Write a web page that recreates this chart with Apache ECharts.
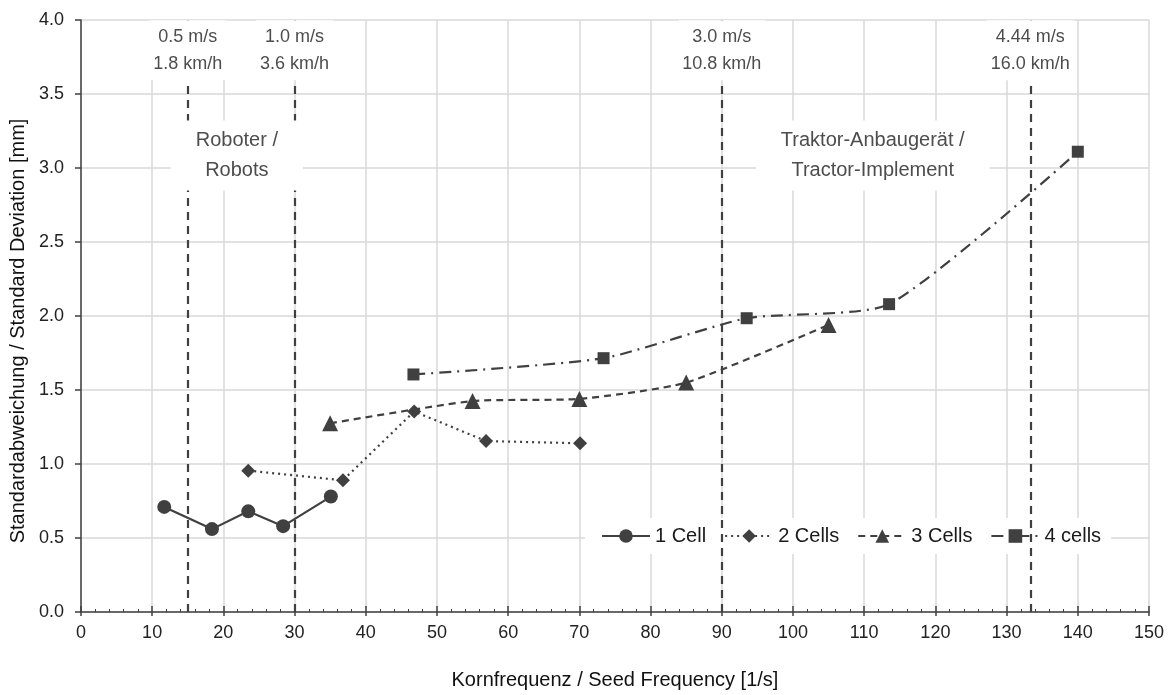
<!DOCTYPE html>
<html lang="de">
<head>
    <meta charset="UTF-8">
    <title>Standardabweichung</title>
    <style>
        html, body { margin: 0; padding: 0; background: #fff; }
        #main { width: 1173px; height: 695px; }
    </style>
</head>
<body>
<div id="main"></div>
<script src="https://cdn.jsdelivr.net/npm/echarts@6/dist/echarts.min.js"></script>
<script type="text/javascript">
    // Messwerte: Kornfrequenz [1/s] und Standardabweichung [mm] je Zellenzahl
    var freq1 = [11.7, 18.4, 23.5, 28.4, 35.1];
    var sd1 = [0.71, 0.56, 0.68, 0.58, 0.78];
    var freq2 = [23.5, 36.8, 46.8, 56.9, 70.1];
    var sd2 = [0.955, 0.89, 1.355, 1.155, 1.14];
    var freq3 = [35.0, 55.0, 70.0, 85.0, 105.0];
    var sd3 = [1.275, 1.425, 1.44, 1.55, 1.94];
    var freq4 = [46.7, 73.4, 93.5, 113.5, 140.0];
    var sd4 = [1.605, 1.715, 1.985, 2.08, 3.11];
    var seriesNames = ['1 Cell', '2 Cells', '3 Cells', '4 cells'];

    // Geschwindigkeitsgrenzen (senkrechte Linien)
    var speedFreq = [15, 30, 90, 133.33];
    var speedLabels = ['0.5 m/s\n1.8 km/h', '1.0 m/s\n3.6 km/h', '3.0 m/s\n10.8 km/h', '4.44 m/s\n16.0 km/h'];
    // Bereiche
    var regionLabels = ['Roboter /\nRobots', 'Traktor-Anbaugerät /\nTractor-Implement'];
    var regionFreq = [21.9, 111.2];

    var FONT = 'Liberation Sans, Arial, sans-serif';
    var DARK = '#404040';

    function pairs(xs, ys) {
        var out = [];
        for (var i = 0; i < xs.length; i++) {
            out.push([xs[i], ys[i]]);
        }
        return out;
    }

    // Beschriftungen: y-Lage ist nur Layout
    var annot = [];
    for (var i = 0; i < speedFreq.length; i++) {
        annot.push({value: [speedFreq[i], 3.795, speedLabels[i]], label: {fontSize: 18, lineHeight: 27, padding: [3, 4]}});
    }
    for (var j = 0; j < regionFreq.length; j++) {
        annot.push({value: [regionFreq[j], 3.084, regionLabels[j]], label: {fontSize: 20, lineHeight: 30, padding: [5, 25]}});
    }

    var myChart = echarts.init(document.getElementById('main'));

    var lineSeries = function (name, data, symbol, size, type, smooth) {
        return {
            name: name,
            type: 'line',
            data: data,
            symbol: symbol,
            symbolSize: size,
            smooth: smooth,
            z: 4,
            itemStyle: {color: DARK},
            lineStyle: {color: DARK, width: 2.2, type: type}
        };
    };

    myChart.setOption({
        backgroundColor: '#ffffff',
        animation: false,
        textStyle: {fontFamily: FONT},
        grid: {left: 80, right: 24, top: 20, bottom: 82},
        legend: {
            data: seriesNames,
            left: 585,
            top: 518,
            backgroundColor: '#fff',
            padding: [8, 10, 8, 16],
            itemWidth: 48,
            itemHeight: 17,
            itemGap: 18,
            textStyle: {fontSize: 20, color: '#1a1a1a', fontFamily: FONT}
        },
        xAxis: [{
            type: 'value',
            min: 0,
            max: 150,
            interval: 10,
            name: 'Kornfrequenz / Seed Frequency [1/s]',
            nameLocation: 'middle',
            nameGap: 58,
            nameTextStyle: {fontSize: 20, color: '#111'},
            axisLine: {onZero: false, lineStyle: {color: DARK, width: 1.5}},
            axisTick: {inside: true, length: 6, lineStyle: {color: DARK, width: 1.5}},
            minorTick: {show: true, splitNumber: 5, length: 3, lineStyle: {color: DARK}},
            axisLabel: {fontSize: 18, color: '#222', margin: 12},
            splitLine: {show: true, lineStyle: {color: '#d9d9d9', width: 1.5}}
        }, {
            type: 'value',
            min: 0,
            max: 150,
            interval: 10,
            position: 'bottom',
            axisLine: {show: false},
            axisTick: {length: 4, lineStyle: {color: DARK, width: 1.5}},
            axisLabel: {show: false},
            splitLine: {show: false}
        }],
        yAxis: {
            type: 'value',
            min: 0,
            max: 4,
            interval: 0.5,
            name: 'Standardabweichung / Standard Deviation [mm]',
            nameLocation: 'middle',
            nameGap: 51,
            nameTextStyle: {fontSize: 20, color: '#111', padding: [0, 30, 0, 0]},
            axisLine: {show: true, lineStyle: {color: DARK, width: 1.5}},
            axisTick: {show: true, length: 6, lineStyle: {color: DARK, width: 1.5}},
            axisLabel: {
                fontSize: 18, color: '#222', margin: 17,
                formatter: function (v) { return v.toFixed(1); }
            },
            splitLine: {show: true, lineStyle: {color: '#d9d9d9', width: 1.5}}
        },
        series: [
            {
                name: 'speeds',
                type: 'line',
                data: [],
                z: 1,
                markLine: {
                    silent: true,
                    symbol: 'none',
                    label: {show: false},
                    lineStyle: {color: DARK, width: 2.2, type: [8, 6]},
                    data: speedFreq.map(function (f) { return {xAxis: f}; })
                }
            },
            lineSeries(seriesNames[0], pairs(freq1, sd1), 'circle', 14, 'solid', false),
            lineSeries(seriesNames[1], pairs(freq2, sd2), 'diamond', 14, [2, 4], false),
            lineSeries(seriesNames[2], pairs(freq3, sd3), 'triangle', 16, [7, 5], 0.2),
            lineSeries(seriesNames[3], pairs(freq4, sd4), 'rect', 12, [12, 6, 2, 6], 0.2),
            {
                name: 'annot',
                type: 'scatter',
                symbolSize: 0,
                itemStyle: {color: '#fff', opacity: 0},
                z: 10,
                data: annot,
                label: {
                    show: true,
                    position: 'inside',
                    color: '#4d4d4d',
                    textBorderWidth: 0,
                    opacity: 1,
                    backgroundColor: '#fff',
                    fontFamily: FONT,
                    formatter: function (p) { return p.value[2]; }
                }
            }
        ]
    });

    window.addEventListener("resize", function () {
        myChart.resize();
    });
</script>
</body>
</html>
